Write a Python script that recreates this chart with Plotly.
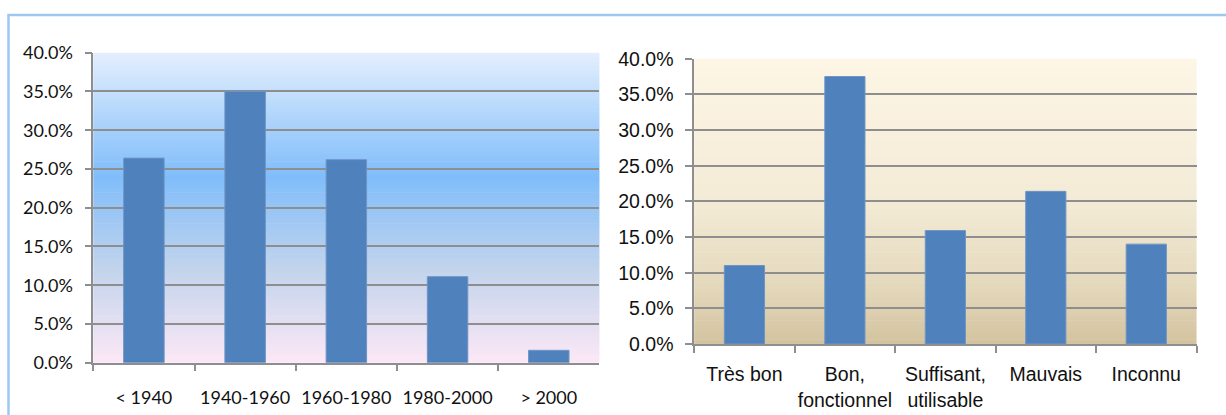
import plotly.graph_objects as go

# ---- data ----
periods = ["< 1940", "1940-1960", "1960-1980", "1980-2000", "> 2000"]
period_share = [0.264, 0.350, 0.262, 0.111, 0.016]

states = ["Très bon", "Bon,<br>fonctionnel", "Suffisant,<br>utilisable", "Mauvais", "Inconnu"]
state_share = [0.110, 0.375, 0.159, 0.214, 0.140]

y_ticks = [0.0, 0.05, 0.10, 0.15, 0.20, 0.25, 0.30, 0.35, 0.40]

W, H = 1226, 415
BAR = "#4F81BD"
GRID = "#8E8E8E"


def hex2rgb(h):
    h = h.lstrip("#")
    return [int(h[i:i + 2], 16) for i in (0, 2, 4)]


def interp(stops, t):
    for (t0, c0), (t1, c1) in zip(stops[:-1], stops[1:]):
        if t0 <= t <= t1:
            f = (t - t0) / (t1 - t0) if t1 > t0 else 0
            a, b = hex2rgb(c0), hex2rgb(c1)
            return "rgb(%d,%d,%d)" % tuple(round(a[i] + (b[i] - a[i]) * f) for i in range(3))
    return stops[-1][1]


def gradient_shapes(xref, yref, stops, n=120):
    # stops: list of (t from top, colour)
    out = []
    for i in range(n):
        t = (i + 0.5) / n
        col = interp(stops, t)
        out.append(dict(type="rect", xref=xref, yref=yref, layer="below",
                        x0=0, x1=1, y0=max(0, 1 - (i + 1) / n - 0.002), y1=1 - i / n,
                        fillcolor=col, line=dict(width=0)))
    return out


left_stops = [(0.0, "#E4EFFD"), (0.40, "#80BDFA"), (0.70, "#C2D4EC"), (1.0, "#FCE8F6")]
right_stops = [(0.0, "#FEF6E5"), (0.5, "#F3EBD6"), (0.8, "#E4D8BB"), (1.0, "#D3C39F")]

fig = go.Figure()
fig.add_trace(go.Bar(x=periods, y=period_share, marker=dict(color=BAR, line=dict(color="#6F95C6", width=1)),
                     xaxis="x", yaxis="y", showlegend=False, hoverinfo="x+y"))
fig.add_trace(go.Bar(x=states, y=state_share, marker=dict(color=BAR, line=dict(color="#6F95C6", width=1)),
                     xaxis="x2", yaxis="y2", showlegend=False, hoverinfo="x+y"))

left_font = dict(family="Lato, Carlito, sans-serif", size=18, color="#111111")
right_font = dict(family="Liberation Sans, Arial, sans-serif", size=19.5, color="#111111")

common_y = dict(range=[0, 0.4], tickvals=y_ticks, tickformat=".1%", showgrid=True,
                gridcolor=GRID, gridwidth=1.5, showline=True, linecolor=GRID, linewidth=1.5,
                ticks="outside", ticklen=7, tickcolor=GRID, tickwidth=1.5, zeroline=False,
                fixedrange=True, automargin=False)
common_x = dict(showline=True, linecolor=GRID, linewidth=1.5, ticks="outside", ticklen=7,
                tickcolor=GRID, tickwidth=1.5, tickson="boundaries", showgrid=False,
                tickangle=0, fixedrange=True, automargin=False)

shapes = []
shapes += gradient_shapes("x domain", "y domain", left_stops)
shapes += gradient_shapes("x2 domain", "y2 domain", right_stops)
# outer frame (top and left border)
shapes.append(dict(type="path", xref="paper", yref="paper",
                   path="M %f,0 L %f,%f L 1.01,%f" % (8.5 / W, 8.5 / W, 1 - 15 / H, 1 - 15 / H),
                   line=dict(color="#9DC8F0", width=2.5), layer="above"))

fig.update_layout(
    width=W, height=H, autosize=False,
    margin=dict(l=0, r=0, t=0, b=0, pad=0),
    paper_bgcolor="white", plot_bgcolor="rgba(0,0,0,0)",
    bargap=0.6,
    shapes=shapes,
    xaxis=dict(domain=[93.3 / W, 599.4 / W], anchor="y", tickfont=left_font,
               ticklabelstandoff=18, **common_x),
    yaxis=dict(domain=[1 - 362.7 / H, 1 - 52.7 / H], anchor="x", tickfont=left_font,
               ticklabelstandoff=8, **common_y),
    xaxis2=dict(domain=[694.2 / W, 1196.5 / W], anchor="y2", tickfont=right_font,
                ticklabelstandoff=12, **common_x),
    yaxis2=dict(domain=[1 - 344.0 / H, 1 - 58.7 / H], anchor="x2", tickfont=right_font,
                ticklabelstandoff=8, **common_y),
)

fig.write_html("out.html", config={"displayModeBar": False})
